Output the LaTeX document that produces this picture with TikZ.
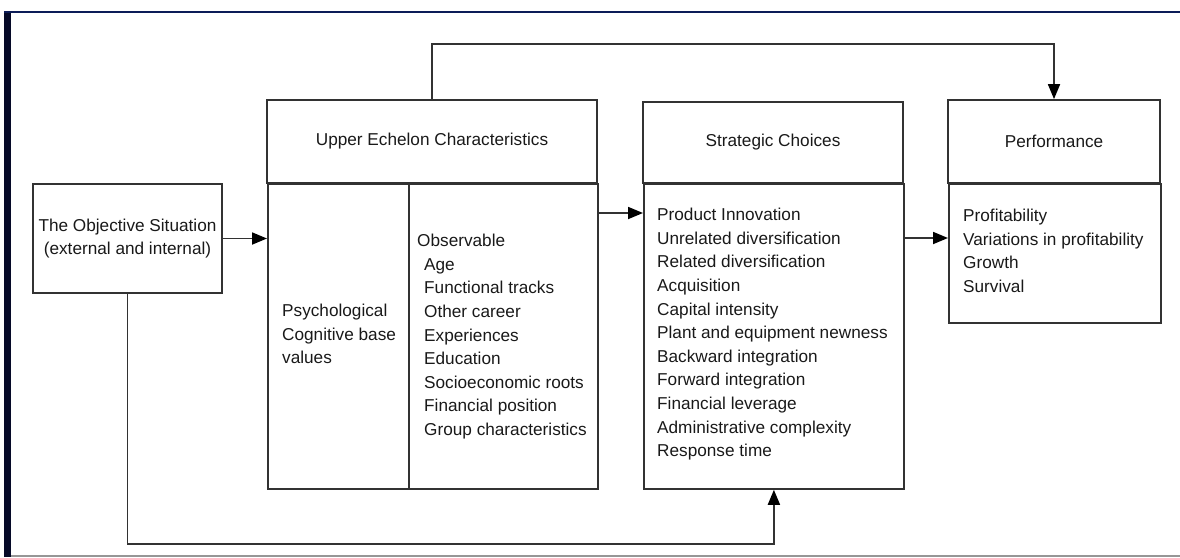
\documentclass[tikz,border=0pt]{standalone}
\usepackage{fontspec}
\setmainfont{Liberation Sans}
\usetikzlibrary{arrows.meta,calc}
\definecolor{navy}{RGB}{12,28,88}
\definecolor{barcol}{RGB}{6,10,40}
\definecolor{boxline}{RGB}{50,50,50}
\definecolor{framegrey}{RGB}{150,150,150}
\begin{document}
\begin{tikzpicture}[x=1pt,y=-1pt,
  font=\fontsize{17.2}{23.6}\selectfont,
  box/.style={draw=boxline,line width=1.8pt,rectangle,inner sep=0pt,anchor=north west},
  txt/.style={inner sep=0pt,anchor=north west,align=left,text=black!90},
  arr/.style={draw=boxline,line width=1.8pt,-{Triangle[length=15pt,width=12pt,color=black,fill=black]}}]
\useasboundingbox (0,0) rectangle (1180,557);
% frame
\fill[barcol] (4,11) rectangle (11,557);
\draw[navy,line width=2.5pt] (4,12) -- (1180,12);
\draw[framegrey,line width=1.5pt] (11,556) -- (1180,556);
% boxes
\node[box,minimum width=189pt,minimum height=109pt,align=center,anchor=center,text=black!90]
  (obj) at (127.5,238.5) {The Objective Situation\\(external and internal)};
\node[box,minimum width=330pt,minimum height=83pt,anchor=center,text=black!90]
  (ueh) at (432,141.5) {Upper Echelon Characteristics};
\node[box,minimum width=141pt,minimum height=305pt] (uel) at (267,183) {};
\node[box,minimum width=189pt,minimum height=305pt] (uer) at (408,183) {};
\node[box,minimum width=260pt,minimum height=81pt,anchor=center,text=black!90]
  (sch) at (773,142.5) {Strategic Choices};
\node[box,minimum width=260pt,minimum height=305pt] (scb) at (643,183) {};
\node[box,minimum width=212pt,minimum height=83pt,anchor=center,text=black!90]
  (pfh) at (1054,141.5) {Performance};
\node[box,minimum width=212pt,minimum height=139pt] (pfb) at (948,183) {};
% texts
\node[txt] (uelt) at (282,304) {Psychological\\Cognitive base\\values};
\node[txt] (uert) at (417,234) {Observable\\
\hspace*{7pt}Age\\
\hspace*{7pt}Functional tracks\\
\hspace*{7pt}Other career\\
\hspace*{7pt}Experiences\\
\hspace*{7pt}Education\\
\hspace*{7pt}Socioeconomic roots\\
\hspace*{7pt}Financial position\\
\hspace*{7pt}Group characteristics};
\node[txt] (scbt) at (657,208) {Product Innovation\\
Unrelated diversification\\
Related diversification\\
Acquisition\\
Capital intensity\\
Plant and equipment newness\\
Backward integration\\
Forward integration\\
Financial leverage\\
Administrative complexity\\
Response time};
\node[txt] (pfbt) at (963,209) {Profitability\\
Variations in profitability\\
Growth\\
Survival};
% connectors
\coordinate (topy) at (0,44);
\coordinate (boty) at (0,544);
\coordinate (a1) at (0,213);
\coordinate (a2) at (0,238);
\draw[arr] (obj.east) -- (obj.east -| uel.west);
\draw[arr] (uer.east |- a1) -- (scb.west |- a1);
\draw[arr] (scb.east |- a2) -- (pfb.west |- a2);
\draw[arr] (ueh.north) -- (ueh.north |- topy) -| (pfh.north);
\draw[arr] (obj.south) -- (obj.south |- boty) -| (scb.south);
\end{tikzpicture}
\end{document}
